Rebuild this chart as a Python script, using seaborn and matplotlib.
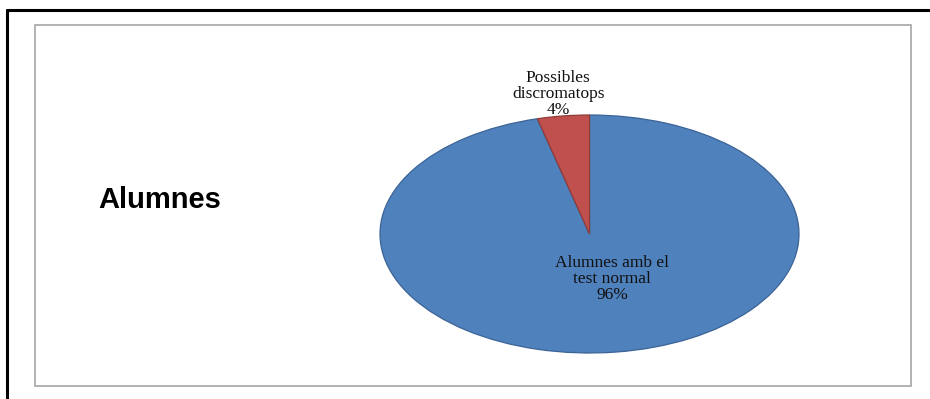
import matplotlib
matplotlib.use("Agg")
import numpy as np
import seaborn as sns
import matplotlib.pyplot as plt
from matplotlib.lines import Line2D
from matplotlib.patches import Rectangle

# data
categories = ["Alumnes amb el\ntest normal", "Possibles\ndiscromatops"]
values = [96, 4]
title = "Alumnes"

colors = ["#4F81BD", "#C0504D"]
edge_colors = ["#3B6396", "#8E3B39"]
label_dist = [0.38, 1.19]

sns.set_theme(style="white")
plt.rcParams["font.family"] = ["Liberation Serif", "DejaVu Serif"]

W, H = 930, 399
fig = plt.figure(figsize=(W / 100, H / 100), dpi=100)
fig.patch.set_facecolor("white")

# pie axes = bounding box of the (stretched) ellipse
ax = fig.add_axes([380 / W, (H - 353) / H, 419 / W, 238 / H])
wedges, _ = ax.pie(values, colors=colors, startangle=90, counterclock=False,
                   radius=1, wedgeprops=dict(linewidth=0.9))
for w, ec in zip(wedges, edge_colors):
    w.set_edgecolor(ec)
ax.set_aspect("auto")
ax.set_xlim(-1, 1)
ax.set_ylim(-1, 1)
ax.axis("off")

total = sum(values)
for w, cat, v, r in zip(wedges, categories, values, label_dist):
    mid = np.deg2rad((w.theta1 + w.theta2) / 2)
    x, y = r * np.cos(mid), r * np.sin(mid)
    if r < 1:
        x += 0.06
    ax.text(x, y, f"{cat}\n{round(v / total * 100)}%", ha="center", va="center",
            fontsize=12.5, linespacing=1.0, color="#111111", clip_on=False)

# chart title on the left
fig.text(160 / W, 1 - 200 / H, title, ha="center", va="center", fontsize=21,
         fontweight="bold", family=["Liberation Sans", "DejaVu Sans"], color="black")

# outer black frame (top + left, cut at the right/bottom)
fig.add_artist(Line2D([7 / W, 1], [1 - 10 / H, 1 - 10 / H], transform=fig.transFigure,
                      color="black", lw=2.2))
fig.add_artist(Line2D([7 / W, 7 / W], [0, 1 - 10 / H], transform=fig.transFigure,
                      color="black", lw=2.2))

# inner gray chart area frame
fig.add_artist(Rectangle((35 / W, 1 - 386 / H), (911 - 35) / W, (386 - 25) / H,
                         transform=fig.transFigure, fill=False, ec="#a6a6a6", lw=1.2))

fig.savefig("out.png", dpi=100)
